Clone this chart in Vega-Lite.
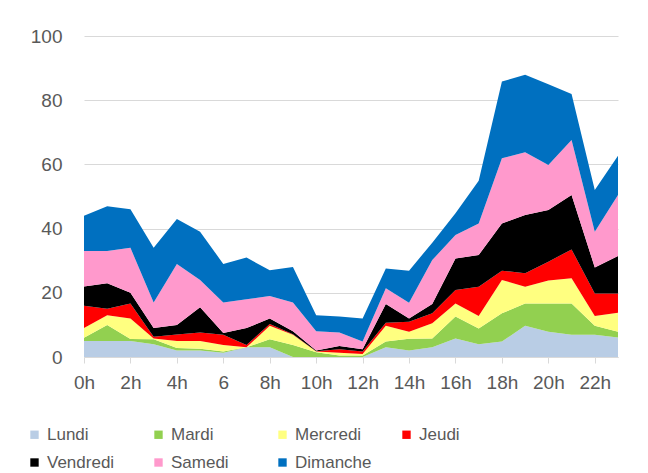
{
  "$schema": "https://vega.github.io/schema/vega-lite/v6.json",
  "width": 534,
  "height": 321,
  "autosize": {"type": "none"},
  "padding": {"left": 84, "top": 36, "right": 30, "bottom": 116},
  "background": "white",
  "datasets": {
    "heures": [
      {"h": 0, "Lundi": 5, "Mardi": 1, "Mercredi": 3, "Jeudi": 7, "Vendredi": 6, "Samedi": 11, "Dimanche": 11},
      {"h": 1, "Lundi": 5, "Mardi": 5, "Mercredi": 3, "Jeudi": 2, "Vendredi": 8, "Samedi": 10, "Dimanche": 14},
      {"h": 2, "Lundi": 5, "Mardi": 0.6, "Mercredi": 6.4, "Jeudi": 4.7, "Vendredi": 3.3, "Samedi": 14, "Dimanche": 12},
      {"h": 3, "Lundi": 4, "Mardi": 1.5, "Mercredi": 0.3, "Jeudi": 0.5, "Vendredi": 2.7, "Samedi": 8, "Dimanche": 17},
      {"h": 4, "Lundi": 2, "Mardi": 0.8, "Mercredi": 2.2, "Jeudi": 2, "Vendredi": 3, "Samedi": 19, "Dimanche": 14},
      {"h": 5, "Lundi": 2, "Mardi": 0.6, "Mercredi": 2.4, "Jeudi": 2.6, "Vendredi": 7.9, "Samedi": 8.5, "Dimanche": 15},
      {"h": 6, "Lundi": 1.3, "Mardi": 0.4, "Mercredi": 2, "Jeudi": 3.2, "Vendredi": 0.6, "Samedi": 9.5, "Dimanche": 12},
      {"h": 7, "Lundi": 3, "Mardi": 0, "Mercredi": 0, "Jeudi": 0.7, "Vendredi": 5.3, "Samedi": 9, "Dimanche": 13},
      {"h": 8, "Lundi": 3, "Mardi": 2.5, "Mercredi": 4.2, "Jeudi": 0.6, "Vendredi": 1.7, "Samedi": 7, "Dimanche": 8},
      {"h": 9, "Lundi": 0, "Mardi": 3.7, "Mercredi": 3.2, "Jeudi": 0.2, "Vendredi": 0.9, "Samedi": 9, "Dimanche": 11},
      {"h": 10, "Lundi": 0, "Mardi": 1.5, "Mercredi": 0.2, "Jeudi": 0.1, "Vendredi": 0.2, "Samedi": 6, "Dimanche": 5},
      {"h": 11, "Lundi": 0, "Mardi": 0.5, "Mercredi": 0.8, "Jeudi": 1.1, "Vendredi": 1, "Samedi": 4.2, "Dimanche": 5},
      {"h": 12, "Lundi": 0, "Mardi": 0.5, "Mercredi": 0.4, "Jeudi": 0.8, "Vendredi": 0.7, "Samedi": 2.4, "Dimanche": 7.2},
      {"h": 13, "Lundi": 3, "Mardi": 1.8, "Mercredi": 4.9, "Jeudi": 1, "Vendredi": 5.8, "Samedi": 4.9, "Dimanche": 6.2},
      {"h": 14, "Lundi": 2, "Mardi": 3.7, "Mercredi": 2.2, "Jeudi": 3.1, "Vendredi": 1, "Samedi": 4.9, "Dimanche": 10},
      {"h": 15, "Lundi": 3, "Mardi": 2.8, "Mercredi": 4.7, "Jeudi": 3.1, "Vendredi": 2.9, "Samedi": 13.7, "Dimanche": 5.4},
      {"h": 16, "Lundi": 5.8, "Mardi": 6.8, "Mercredi": 4.1, "Jeudi": 4.2, "Vendredi": 9.8, "Samedi": 7.3, "Dimanche": 6.8},
      {"h": 17, "Lundi": 4, "Mardi": 4.9, "Mercredi": 3.9, "Jeudi": 9.1, "Vendredi": 9.9, "Samedi": 9.8, "Dimanche": 13.3},
      {"h": 18, "Lundi": 4.8, "Mardi": 8.8, "Mercredi": 10.4, "Jeudi": 2.9, "Vendredi": 14.7, "Samedi": 20.3, "Dimanche": 23.9},
      {"h": 19, "Lundi": 9.7, "Mardi": 7, "Mercredi": 5.2, "Jeudi": 4.2, "Vendredi": 18.1, "Samedi": 19.6, "Dimanche": 24.1},
      {"h": 20, "Lundi": 7.9, "Mardi": 8.8, "Mercredi": 7.1, "Jeudi": 5.9, "Vendredi": 16.1, "Samedi": 14, "Dimanche": 25.2},
      {"h": 21, "Lundi": 6.9, "Mardi": 9.8, "Mercredi": 7.8, "Jeudi": 9, "Vendredi": 17, "Samedi": 17.1, "Dimanche": 14.3},
      {"h": 22, "Lundi": 6.9, "Mardi": 2.8, "Mercredi": 3.1, "Jeudi": 7, "Vendredi": 8.1, "Samedi": 11.1, "Dimanche": 13},
      {"h": 23, "Lundi": 6.1, "Mardi": 1.8, "Mercredi": 5.9, "Jeudi": 6, "Vendredi": 11.7, "Samedi": 19, "Dimanche": 12.2}
    ],
    "jours": [
      {"jour": "Lundi", "i": 1},
      {"jour": "Mardi", "i": 2},
      {"jour": "Mercredi", "i": 3},
      {"jour": "Jeudi", "i": 4},
      {"jour": "Vendredi", "i": 5},
      {"jour": "Samedi", "i": 6},
      {"jour": "Dimanche", "i": 7}
    ]
  },
  "data": {"name": "heures"},
  "transform": [
    {"fold": ["Lundi", "Mardi", "Mercredi", "Jeudi", "Vendredi", "Samedi", "Dimanche"], "as": ["jour", "v"]},
    {"lookup": "jour", "from": {"data": {"name": "jours"}, "key": "jour", "fields": ["i"]}}
  ],
  "mark": {"type": "area", "interpolate": "linear"},
  "encoding": {
    "x": {
      "field": "h", "type": "quantitative",
      "scale": {"domain": [0, 23], "nice": false, "zero": false},
      "axis": {
        "values": [0, 2, 4, 6, 8, 10, 12, 14, 16, 18, 20, 22],
        "labelExpr": "datum.value == 6 ? '6' : datum.value + 'h'",
        "labelFlush": false,
        "grid": false, "domainColor": "#D9D9D9", "tickColor": "#D9D9D9", "tickSize": 6,
        "labelPadding": 10, "title": null
      }
    },
    "y": {
      "field": "v", "type": "quantitative", "stack": "zero",
      "scale": {"domain": [0, 100], "nice": false},
      "axis": {
        "values": [0, 20, 40, 60, 80, 100],
        "domain": false, "ticks": false, "gridColor": "#D9D9D9",
        "labelPadding": 22, "title": null
      }
    },
    "color": {
      "field": "jour", "type": "nominal",
      "scale": {
        "domain": ["Lundi", "Mardi", "Mercredi", "Jeudi", "Vendredi", "Samedi", "Dimanche"],
        "range": ["#B9CDE5", "#92D050", "#FFFF80", "#FF0000", "#000000", "#FF99CC", "#0070C0"]
      },
      "legend": {
        "orient": "none", "legendX": -58, "legendY": 390,
        "direction": "horizontal", "columns": 4, "gridAlign": "all",
        "columnPadding": 26, "rowPadding": 10,
        "symbolType": "square", "symbolSize": 70, "symbolStrokeWidth": 0,
        "labelOffset": 4, "labelFontSize": 17, "labelColor": "#595959",
        "labelFont": "Liberation Sans", "title": null
      }
    },
    "order": {"field": "i", "type": "quantitative", "sort": "ascending"}
  },
  "config": {
    "view": {"stroke": null},
    "axis": {"labelFont": "Liberation Sans", "labelFontSize": 19, "labelColor": "#595959"}
  }
}
